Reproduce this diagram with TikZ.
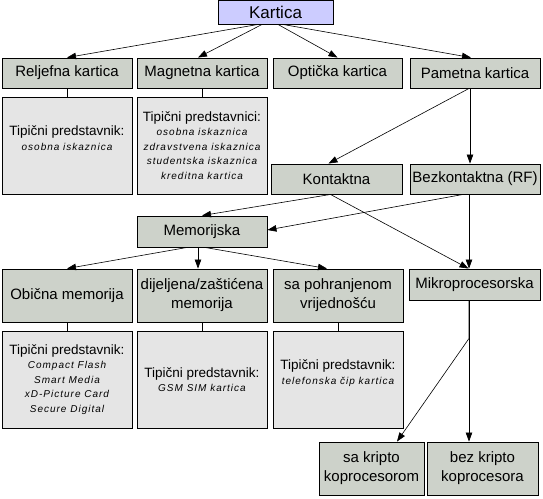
\documentclass[tikz,border=0pt]{standalone}
\usepackage{fontspec}
\setmainfont{Liberation Sans}
\newfontfamily\spacedsans[LetterSpace=10]{Liberation Sans}
\usepackage{tikz}
\usetikzlibrary{arrows.meta}
\definecolor{boxgray}{RGB}{205,210,202}
\definecolor{infogray}{RGB}{229,229,229}
\definecolor{rootblue}{RGB}{204,204,255}
\tikzset{
  card/.style={draw, fill=boxgray, line width=0.9pt, minimum width=130pt,
    minimum height=30pt, inner sep=0pt, align=center,
    font=\fontsize{15}{19}\selectfont},
  tall/.style={minimum height=53pt},
  info/.style={draw, fill=infogray, line width=0.9pt, minimum width=130pt,
    minimum height=97pt, inner sep=0pt, align=center,
    font=\fontsize{10}{14.5}\selectfont},
  edge/.style={line width=0.6pt, -{Triangle[length=9pt,width=6.5pt]}},
  link/.style={line width=0.7pt}
}
\newcommand{\tiphead}[1]{{\fontsize{13.5}{14.5}\selectfont #1}}
\newcommand{\tipitem}[1]{{\spacedsans\itshape #1}}

\begin{document}
\begin{tikzpicture}[x=1pt, y=-1pt]
    \useasboundingbox (0, 0) rectangle (543, 498);
    \node [card, fill=rootblue, minimum width=115pt, minimum height=24pt,
      font=\fontsize{17}{20}\selectfont] (kartica) at (275.5, 12) {Kartica};
    \node [card] (reljefna) at (67, 73) {Reljefna kartica};
    \node [card] (magnetna) at (202, 73) {Magnetna kartica};
    \node [card, minimum width=129pt] (opticka) at (337.5, 73) {Optička kartica};
    \node [card] (pametna) at (475, 73) {Pametna kartica};
    \node [info] (relinfo) at (67, 145.5) {\tiphead{Tipični predstavnik:}\\
      \tipitem{osobna iskaznica}\\ \mbox{}};
    \node [info] (maginfo) at (202, 145.5) {\tiphead{Tipični predstavnici:}\\
      \tipitem{osobna iskaznica}\\ \tipitem{zdravstvena iskaznica}\\
      \tipitem{studentska iskaznica}\\ \tipitem{kreditna kartica}};
    \node [card, minimum width=131pt] (kontaktna) at (336.5, 179) {Kontaktna};
    \node [card] (bezkontaktna) at (475, 179) {Bezkontaktna (RF)};
    \node [card, minimum height=31pt] (memorijska) at (202, 231.5) {Memorijska};
    \node [card, tall] (obicna) at (67, 295.5) {Obična memorija};
    \node [card, tall] (dijeljena) at (202, 295.5) {dijeljena/zaštićena\\memorija};
    \node [card, tall] (pohranjena) at (338, 295.5) {sa pohranjenom\\vrijednošću};
    \node [card, minimum width=131pt, minimum height=31pt] (mikro) at (474.5, 284.5) {Mikroprocesorska};
    \node [info] (obinfo) at (67, 379.5) {\tiphead{Tipični predstavnik:}\\
      \tipitem{Compact Flash}\\ \tipitem{Smart Media}\\
      \tipitem{xD-Picture Card}\\ \tipitem{Secure Digital}};
    \node [info] (dijinfo) at (202, 379.5) {\tiphead{Tipični predstavnik:}\\
      \tipitem{GSM SIM kartica}};
    \node [info] (pohinfo) at (338, 379.5) {\tiphead{Tipični predstavnik:}\\
      \tipitem{telefonska čip kartica}\\ \mbox{}};
    \node [card, tall, minimum width=105pt] (sakripto) at (371.5, 468.5) {sa kripto\\koprocesorom};
    \node [card, tall, minimum width=111pt] (bezkripto) at (482.5, 468.5) {bez kripto\\koprocesora};
    % plain links to the info boxes
    \draw [link] (reljefna) -- (relinfo);
    \draw [link] (magnetna) -- (maginfo);
    \draw [link] (obicna) -- (obinfo);
    \draw [link] (dijeljena) -- (dijinfo);
    \draw [link] (pohranjena) -- (pohinfo);
    % arrows
    \draw [edge] ([xshift=-17.5pt]kartica.south) -- (reljefna.north);
    \draw [edge] ([xshift=-13.5pt]kartica.south) -- ([xshift=-4pt]magnetna.north);
    \draw [edge] ([xshift=2.5pt]kartica.south) -- (opticka.north);
    \draw [edge] ([xshift=7.5pt]kartica.south) -- ([xshift=-4pt]pametna.north);
    \draw [edge] ([xshift=-6pt]pametna.south) -- ([xshift=-8pt]kontaktna.north);
    \draw [edge] ([xshift=-5pt]pametna.south) -- ([xshift=-5pt]bezkontaktna.north);
    \draw [edge] ([xshift=-6pt]kontaktna.south) -- (memorijska.north);
    \draw [edge] ([xshift=-12pt]bezkontaktna.south) -- ([yshift=1.5pt]memorijska.east);
    \draw [edge] ([xshift=-6pt]kontaktna.south) -- ([xshift=-6pt]mikro.north);
    \draw [edge] ([xshift=-6pt]bezkontaktna.south) -- ([xshift=-5.5pt]mikro.north);
    \draw [edge] ([xshift=-15pt]memorijska.south) -- (obicna.north);
    \draw [edge] ([xshift=-4pt]memorijska.south) -- ([xshift=-4pt]dijeljena.north);
    \draw [edge] ([xshift=3pt]memorijska.south) -- ([xshift=-11pt]pohranjena.north);
    \coordinate (split) at ([xshift=-5.5pt, yshift=-38pt]mikro.south);
    \draw [edge] ([xshift=-5.5pt]mikro.south) -- (split) -- ([xshift=25.5pt]sakripto.north);
    \draw [edge] ([xshift=-5.5pt]mikro.south) -- ([xshift=-13.5pt]bezkripto.north);
  \end{tikzpicture}
\end{document}
